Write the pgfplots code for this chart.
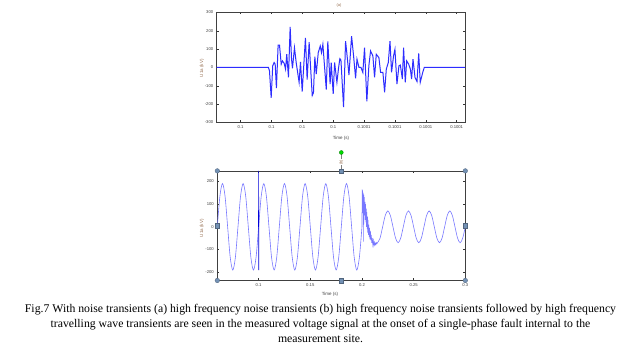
\documentclass[border=0pt]{standalone}
\usepackage{pgfplots}
\pgfplotsset{compat=1.18}
\usepackage{fontspec}
\setmainfont{Liberation Serif}
\newfontfamily\sans{Liberation Sans}
\definecolor{labc}{RGB}{150,110,80}
\definecolor{hand}{RGB}{115,145,180}
\definecolor{lightline}{RGB}{120,120,255}
\definecolor{topline}{RGB}{45,45,255}
\begin{document}
\begin{tikzpicture}
\fill[white] (0bp,0bp) rectangle (640bp,351bp);
\pgfplotsset{mystyle/.style={scale only axis, anchor=south west,
  axis line style={black!75, line width=0.6bp},
  tick align=inside, major tick length=2bp,
  tick style={black!80, line width=0.4bp},
  ticklabel style={font=\sans\fontsize{4.2}{4.2}\selectfont, text=black!75},
  /pgf/number format/assume math mode=true}}
% ---------- (a) ----------
\begin{axis}[mystyle, at={(216.7bp,231.7bp)}, width=248.3bp, height=110bp,
  xmin=-35.5, xmax=125.4, ymin=-300, ymax=300,
  ytick={-300,-200,-100,0,100,200,300},
  xtick={-20,0,20,40,60,80,100,120},
  xticklabels={0.1,0.1,0.1,0.1,0.1001,0.1001,0.1001,0.1001}]
\addplot[topline, line width=1bp] coordinates {
(-35.5,0) (-2,0) (-1.3,-18) (-0.2,-165) (0.8,9) (1.7,27) (2.4,18) (3.2,-113)
(4.3,122) (5.2,122) (6.3,18) (7.1,36) (8.2,23) (9.1,-9) (9.9,72) (11.0,-54)
(12.1,221) (13.0,45) (13.6,-4) (14.9,108) (16.0,27) (17.9,-81) (18.8,31)
(19.9,-131) (22.0,162) (23.1,-66) (24.4,138) (26.4,-153) (27.2,-138) (28.1,59)
(29.0,-36) (30.3,81) (31.6,117) (32.4,81) (33.3,126) (35.5,-120) (36.5,142)
(38.0,-90) (38.7,27) (40.0,-144) (40.9,27) (42.4,-81) (43.5,0) (44.3,48)
(45.0,41) (46.7,-216) (48.0,144) (48.9,72) (50.2,-41) (51.9,171) (53.2,63)
(54.5,-59) (55.4,45) (56.7,0) (58.0,0) (59.2,-27) (60.3,108) (61.8,-185)
(63.1,9) (64.2,90) (65.7,63) (66.8,-54) (67.9,72) (69.6,54) (70.7,-27)
(72.2,-27) (73.3,-135) (74.4,-9) (75.7,27) (76.8,144) (77.8,-27) (79.1,63)
(80.0,99) (81.3,-90) (82.6,9) (83.5,13) (84.8,-63) (85.6,108) (86.7,-81)
(87.6,36) (88.9,18) (90.0,-9) (90.8,-63) (91.7,45) (93.0,-54) (94.3,-77)
(95.4,77) (96.4,-81) (98.0,-27) (99.0,0) (125.4,0)};
\end{axis}
% ---------- (b) ----------
\begin{axis}[mystyle, at={(217.3bp,73.7bp)}, width=248bp, height=109.6bp,
  xmin=0.06, xmax=0.3, ymin=-236, ymax=246,
  ytick={-200,-100,0,100,200},
  xtick={0.1,0.15,0.2,0.25,0.3},
  xticklabels={0.1,0.15,0.2,0.25,0.3}]
\addplot[lightline, line width=0.6bp, smooth] coordinates {
(0.0600,0) (0.0625,134.4) (0.0650,190) (0.0675,134.4) (0.0700,0) (0.0725,-134.4) (0.0750,-190) (0.0775,-134.4)
(0.0800,0) (0.0825,134.4) (0.0850,190) (0.0875,134.4) (0.0900,0) (0.0925,-134.4) (0.0950,-190) (0.0975,-134.4)
(0.1000,0) (0.1025,134.4) (0.1050,190) (0.1075,134.4) (0.1100,0) (0.1125,-134.4) (0.1150,-190) (0.1175,-134.4)
(0.1200,0) (0.1225,134.4) (0.1250,190) (0.1275,134.4) (0.1300,0) (0.1325,-134.4) (0.1350,-190) (0.1375,-134.4)
(0.1400,0) (0.1425,134.4) (0.1450,190) (0.1475,134.4) (0.1500,0) (0.1525,-134.4) (0.1550,-190) (0.1575,-134.4)
(0.1600,0) (0.1625,134.4) (0.1650,190) (0.1675,134.4) (0.1700,0) (0.1725,-134.4) (0.1750,-190) (0.1775,-134.4)
(0.1800,0) (0.1825,134.4) (0.1850,190) (0.1875,134.4) (0.1900,0) (0.1925,-134.4) (0.1950,-190) (0.1975,-134.4)
(0.2000,0)};
\addplot[lightline, line width=0.6bp] coordinates {
(0.2000,0) (0.2002,165) (0.2004,110) (0.2006,160) (0.2008,60) (0.2010,150) (0.2012,100)
(0.2014,145) (0.2016,-65) (0.2018,140) (0.2020,70) (0.2023,130) (0.2026,50) (0.2029,110)
(0.2032,30) (0.2035,100) (0.2038,20) (0.2041,80) (0.2044,0) (0.2047,65) (0.2050,-10)
(0.2053,45) (0.2056,-25) (0.2059,30) (0.2062,-35) (0.2066,10) (0.2070,-45) (0.2074,-5)
(0.2078,-55) (0.2082,-20) (0.2086,-60) (0.2090,-35) (0.2095,-70) (0.2100,-50) (0.2105,-78)
(0.2110,-60) (0.2115,-82) (0.2120,-68) (0.2125,-80) (0.2130,-72) (0.2135,-78) (0.2140,-70)
(0.2145,-74) (0.2150,-70)};
\addplot[lightline, line width=0.6bp, smooth] coordinates {
(0.2150,-70) (0.2175,-49.5) (0.2200,0) (0.2225,49.5) (0.2250,70) (0.2275,49.5) (0.2300,0) (0.2325,-49.5)
(0.2350,-70) (0.2375,-49.5) (0.2400,0) (0.2425,49.5) (0.2450,70) (0.2475,49.5) (0.2500,0) (0.2525,-49.5)
(0.2550,-70) (0.2575,-49.5) (0.2600,0) (0.2625,49.5) (0.2650,70) (0.2675,49.5) (0.2700,0) (0.2725,-49.5)
(0.2750,-70) (0.2775,-49.5) (0.2800,0) (0.2825,49.5) (0.2850,70) (0.2875,49.5) (0.2900,0) (0.2925,-49.5)
(0.2950,-70) (0.2975,-49.5) (0.3000,0)};
\addplot[blue!85!black, line width=0.7bp] coordinates {
(0.09995,0) (0.1000,246) (0.10005,-190) (0.1001,0)};
\end{axis}
% selection handles around (b)
\draw[hand!70!black, fill=hand, line width=0.3bp] (217.3bp,73.7bp) circle[radius=2.3bp];
\draw[hand!70!black, fill=hand, line width=0.3bp] (465.3bp,73.7bp) circle[radius=2.3bp];
\draw[hand!70!black, fill=hand, line width=0.3bp] (217.3bp,183.3bp) circle[radius=2.3bp];
\draw[hand!70!black, fill=hand, line width=0.3bp] (465.3bp,183.3bp) circle[radius=2.3bp];
\draw[hand!70!black, fill=hand, line width=0.3bp] (339.5bp,71.5bp) rectangle ++(3.6bp,4.4bp);
\draw[hand!70!black, fill=hand, line width=0.3bp] (339.5bp,181.1bp) rectangle ++(3.6bp,4.4bp);
\draw[hand!70!black, fill=hand, line width=0.3bp] (215.5bp,126.3bp) rectangle ++(3.6bp,4.4bp);
\draw[hand!70!black, fill=hand, line width=0.3bp] (463.5bp,126.3bp) rectangle ++(3.6bp,4.4bp);
% labels
\node[rotate=90, font=\sans\fontsize{4.5}{4.5}\selectfont, text=labc] at (202bp,286bp) {U1a (kV)};
\node[rotate=90, font=\sans\fontsize{4.5}{4.5}\selectfont, text=labc] at (202bp,126bp) {U1a (kV)};
\node[font=\sans\fontsize{4.5}{4.5}\selectfont, text=black!75] at (341bp,216bp) {Time (s)};
\node[font=\sans\fontsize{4.5}{4.5}\selectfont, text=black!75] at (330bp,60bp) {Time (s)};
\node[font=\sans\fontsize{4}{4}\selectfont, text=labc] at (339bp,349bp) {(a)};
\draw[black!50, line width=0.4bp] (341.3bp,201.7bp) -- (341.3bp,185.5bp);
\node[rotate=90, font=\sans\fontsize{4}{4}\selectfont, text=labc, fill=white, inner sep=0.3bp] at (341.3bp,192bp) {(b)};
\draw[green!50!black, fill=green!85!black, line width=0.3bp] (341.3bp,201.7bp) circle[radius=2bp];
% caption
\node[anchor=base, font=\fontsize{11.8}{13}\selectfont] at (320.5bp,41.7bp) {Fig.7 With noise transients (a) high frequency noise transients (b) high frequency noise transients followed by high frequency};
\node[anchor=base, font=\fontsize{11.8}{13}\selectfont] at (320.5bp,26.7bp) {travelling wave transients are seen in the measured voltage signal at the onset of a single-phase fault internal to the};
\node[anchor=base, font=\fontsize{11.8}{13}\selectfont] at (320.5bp,11.7bp) {measurement site.};
\end{tikzpicture}
\end{document}
